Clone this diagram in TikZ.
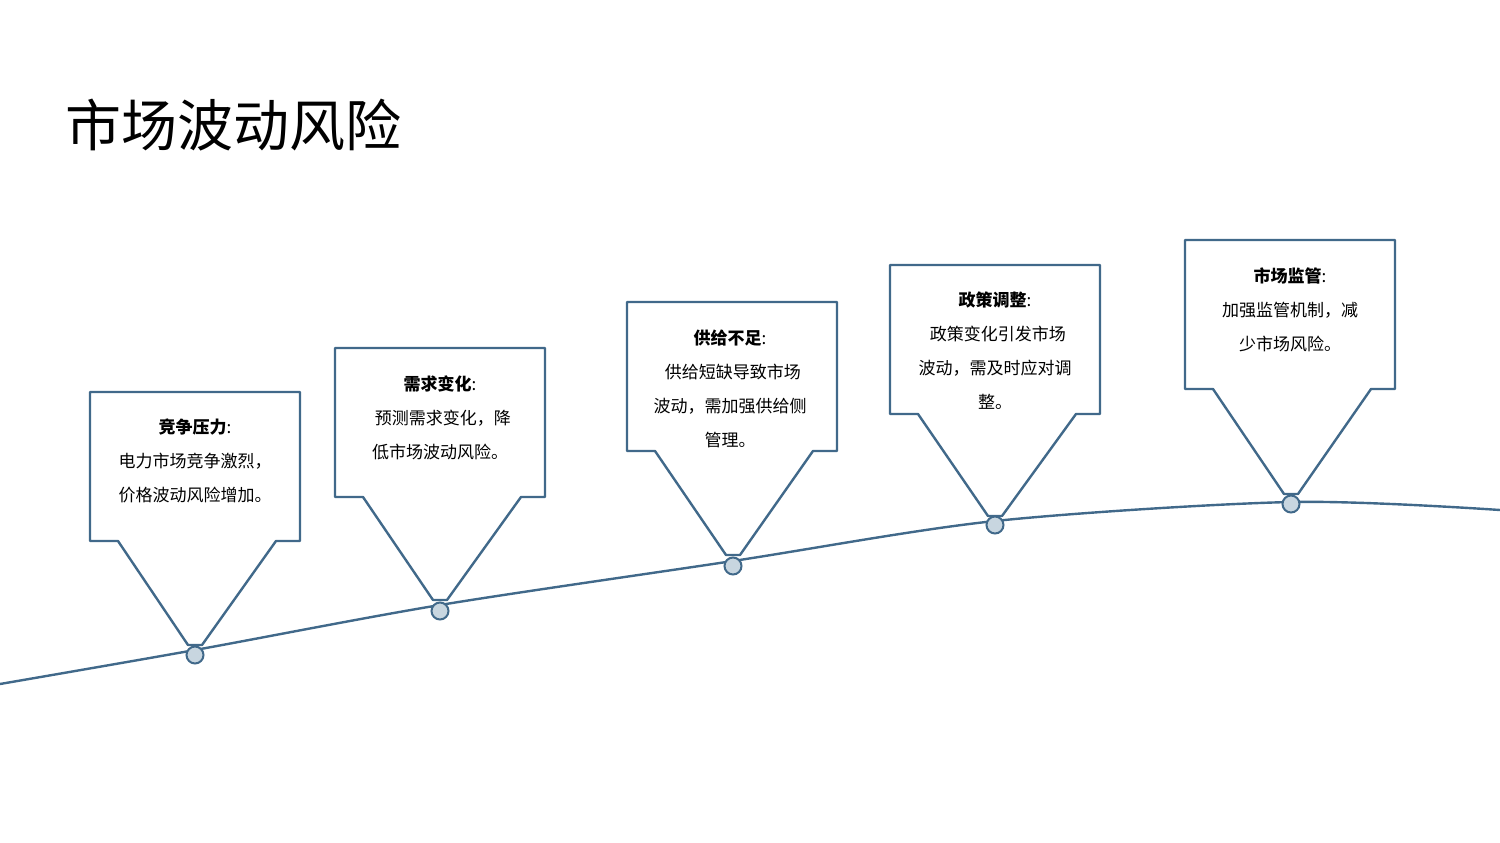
\documentclass[tikz,border=0pt]{standalone}
\usepackage{fontspec}
\setmainfont{Noto Sans CJK SC}
\begin{document}
\begin{tikzpicture}[x=1pt,y=-1pt,
  edge/.style={draw={rgb,255:red,65;green,105;blue,138}, line width=2.4pt},
  dot/.style={circle, draw={rgb,255:red,65;green,105;blue,138}, fill={rgb,255:red,200;green,214;blue,224}, line width=2pt, minimum size=17pt, inner sep=0pt},
  txt/.style={align=center, font=\fontsize{17}{34}\selectfont, text width=200pt}]
\useasboundingbox (0,0) rectangle (1500,843);
\node[anchor=west, font=\fontsize{56}{60}\selectfont] (title) at (62,125) {市场波动风险};
\draw[edge] plot[smooth, tension=0.5] coordinates {(0,684) (195,650) (440,605) (733,561) (995,521) (1291,502) (1500,510)};
\foreach \l/\t/\tx/\ty/\n in {90/392/195/645/a,335/348/440/600/b,627/302/733/555/c,890/265/995/516/d,1185/240/1291/494/e}{
  \draw[edge, fill=white, line join=round]
    (\l,\t) -- (\l+210,\t) -- (\l+210,\t+149) -- (\l+186,\t+149) -- (\tx+7,\ty)
    -- (\tx-7,\ty) -- (\l+28,\t+149) -- (\l,\t+149) -- cycle;
}
\node[dot] (da) at (195,655) {};
\node[dot] (db) at (440,611) {};
\node[dot] (dc) at (733,566) {};
\node[dot] (dd) at (995,525) {};
\node[dot] (de) at (1291,504) {};
\node[txt] (ta) at (195,461) {\textbf{竞争压力}:\\电力市场竞争激烈，\\价格波动风险增加。};
\node[txt] (tb) at (440,418) {\textbf{需求变化}:\\\ 预测需求变化，降\\低市场波动风险。};
\node[txt] (tc) at (730,389) {\textbf{供给不足}:\\\ 供给短缺导致市场\\波动，需加强供给侧\\管理。};
\node[txt] (td) at (995,351) {\textbf{政策调整}:\\\ 政策变化引发市场\\波动，需及时应对调\\整。};
\node[txt] (te) at (1290,310) {\textbf{市场监管}:\\加强监管机制，减\\少市场风险。};
\end{tikzpicture}
\end{document}
